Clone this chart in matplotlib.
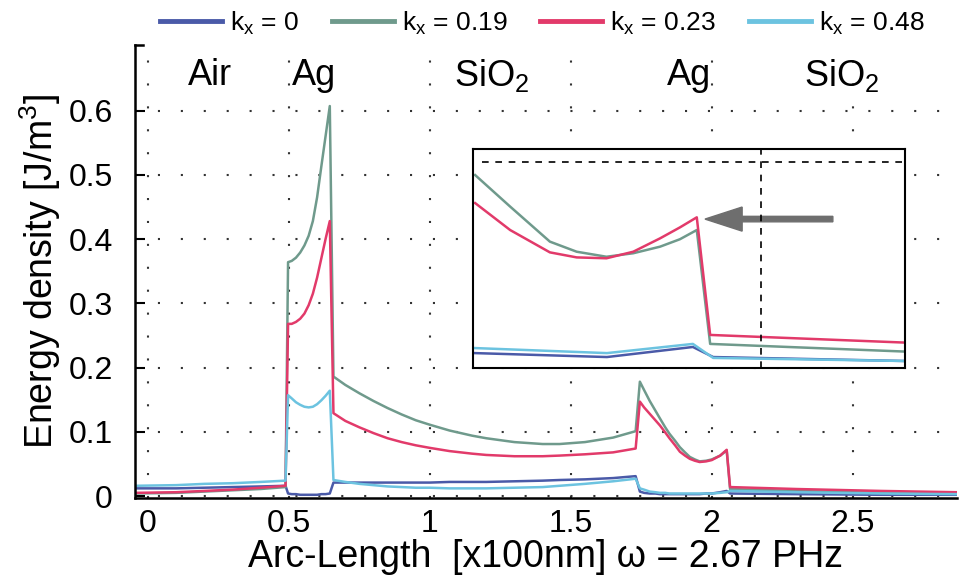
import numpy as np
import matplotlib.pyplot as plt

plt.rcParams['font.family'] = ['Liberation Sans', 'DejaVu Sans']
plt.rcParams['mathtext.fontset'] = 'custom'
plt.rcParams['mathtext.rm'] = 'Liberation Sans'
plt.rcParams['mathtext.it'] = 'Liberation Sans:italic'

# arc length [x100nm], shared by all four k_x curves
arc = [-0.046, 0.1, 0.2, 0.3, 0.4, 0.488,
       0.497, 0.51, 0.525, 0.54, 0.555, 0.57, 0.585, 0.60, 0.615, 0.63, 0.645,
       0.658, 0.7, 0.75, 0.8, 0.85, 0.9, 0.95, 1.0, 1.07, 1.15, 1.2, 1.3, 1.4, 1.46,
       1.55, 1.65, 1.73,
       1.745, 1.76, 1.78, 1.8, 1.816, 1.835, 1.85, 1.87, 1.887, 1.905, 1.922, 1.94,
       1.957, 1.98, 2.0, 2.03, 2.053,
       2.065, 2.3, 2.6, 2.87]

# energy density [J/m^3]
u_k000 = [0.012, 0.012, 0.013, 0.014, 0.015, 0.016,
          0.004, 0.003, 0.003, 0.002, 0.002, 0.002, 0.002, 0.002, 0.003, 0.003, 0.004,
          0.021, 0.021, 0.021, 0.021, 0.021, 0.021, 0.021, 0.021, 0.022, 0.022, 0.022,
          0.023, 0.024, 0.025, 0.026, 0.028, 0.031,
          0.007, 0.005, 0.004, 0.004, 0.003, 0.003, 0.003, 0.003, 0.003, 0.003, 0.003,
          0.003, 0.003, 0.004, 0.004, 0.006, 0.008,
          0.004, 0.003, 0.002, 0.002]
u_k019 = [0.004, 0.005, 0.007, 0.009, 0.011, 0.014,
          0.364, 0.366, 0.371, 0.379, 0.390, 0.405, 0.428, 0.465, 0.513, 0.560, 0.607,
          0.186, 0.173, 0.160, 0.148, 0.137, 0.127, 0.118, 0.111, 0.102, 0.094, 0.090,
          0.084, 0.081, 0.081, 0.084, 0.091, 0.101,
          0.178, 0.165, 0.148, 0.133, 0.121, 0.107, 0.097, 0.086, 0.076, 0.068, 0.061,
          0.057, 0.054, 0.055, 0.057, 0.063, 0.071,
          0.011, 0.008, 0.005, 0.004]
u_k023 = [0.005, 0.006, 0.008, 0.010, 0.013, 0.016,
          0.268, 0.268, 0.271, 0.276, 0.284, 0.297, 0.315, 0.340, 0.370, 0.400, 0.428,
          0.129, 0.117, 0.107, 0.098, 0.090, 0.084, 0.079, 0.075, 0.070, 0.066, 0.064,
          0.062, 0.062, 0.063, 0.065, 0.068, 0.074,
          0.147, 0.138, 0.128, 0.118, 0.110, 0.099, 0.090, 0.079, 0.069, 0.063, 0.058,
          0.055, 0.053, 0.054, 0.056, 0.063, 0.072,
          0.014, 0.011, 0.008, 0.006]
u_k048 = [0.016, 0.017, 0.019, 0.020, 0.022, 0.024,
          0.157, 0.152, 0.146, 0.142, 0.139, 0.138, 0.139, 0.143, 0.149, 0.156, 0.164,
          0.025, 0.022, 0.019, 0.017, 0.015, 0.014, 0.013, 0.013, 0.012, 0.012, 0.012,
          0.013, 0.014, 0.016, 0.019, 0.023, 0.027,
          0.012, 0.010, 0.007, 0.006, 0.005, 0.005, 0.004, 0.004, 0.004, 0.004, 0.004,
          0.004, 0.004, 0.004, 0.004, 0.005, 0.006,
          0.008, 0.006, 0.004, 0.003]

# close-up (normalised units)
zx_a = [0.005, 0.086, 0.178, 0.240, 0.309, 0.371, 0.433, 0.479, 0.518, 0.549, 1.0]
zy_k019 = [0.881, 0.737, 0.577, 0.531, 0.508, 0.524, 0.554, 0.588, 0.630, 0.110, 0.075]
zy_k023 = [0.753, 0.630, 0.528, 0.505, 0.501, 0.531, 0.592, 0.642, 0.688, 0.151, 0.116]
zx_b = [0.005, 0.310, 0.509, 0.556, 1.0]
zy_k000 = [0.068, 0.050, 0.096, 0.050, 0.032]
zy_k048 = [0.091, 0.068, 0.110, 0.046, 0.032]

labels = [r'k$_{\mathrm{x}}$ = 0', r'k$_{\mathrm{x}}$ = 0.19',
          r'k$_{\mathrm{x}}$ = 0.23', r'k$_{\mathrm{x}}$ = 0.48']
colors = ['#4a5aa8', '#6f9a8c', '#e23a6a', '#6cc3e0']
materials = ['Air', 'Ag', 'SiO$_2$', 'Ag', 'SiO$_2$']
mat_x = [0.22, 0.59, 1.22, 1.92, 2.46]

fig = plt.figure(figsize=(9.59, 5.76), dpi=100)
ax = fig.add_axes([135 / 959, 78 / 576, 822 / 959, 453 / 576])

series = [u_k000, u_k019, u_k023, u_k048]
for u, c, lab in zip(series, colors, labels):
    ax.plot(arc, u, color=c, lw=1.8, label=lab)

ax.set_xlim(-0.046, 2.87)
ax.set_ylim(-0.003, 0.702)
ax.set_xticks([0, 0.5, 1, 1.5, 2, 2.5])
ax.set_xticklabels(['0', '0.5', '1', '1.5', '2', '2.5'])
ax.set_yticks([0, 0.1, 0.2, 0.3, 0.4, 0.5, 0.6])
ax.set_yticklabels(['0', '0.1', '0.2', '0.3', '0.4', '0.5', '0.6'])
ax.tick_params(axis='y', direction='in', length=7, width=1.5, labelsize=23, pad=16)
ax.tick_params(axis='x', length=0, labelsize=23, pad=8)
ax.grid(True, color='#333333', linestyle=(0, (1, 10)), linewidth=1.5)
for s in ['top', 'right']:
    ax.spines[s].set_visible(False)
ax.spines['left'].set_linewidth(1.8)
ax.spines['bottom'].set_linewidth(1.8)
ax.plot([0, 0.01], [1, 1], transform=ax.transAxes, color='k', lw=1.8, clip_on=False)

ax.set_xlabel(r'Arc-Length  [x100nm] ω = 2.67 PHz', fontsize=27, labelpad=0)
ax.set_ylabel(r'Energy density [J/m$^3$]', fontsize=27, labelpad=4)

for name, mx in zip(materials, mat_x):
    ax.text(mx, 0.655, name, fontsize=26, ha='center', va='center')

fig.legend(loc='center left', bbox_to_anchor=(160 / 959, 1 - 23 / 576), ncol=4,
           frameon=False, fontsize=19, handlelength=2.35, handletextpad=0.3,
           columnspacing=1.25, borderpad=0, borderaxespad=0)
for h in fig.legends[0].get_lines():
    h.set_linewidth(3.5)

# close-up panel
axi = fig.add_axes([473 / 959, 1 - 368 / 576, 432 / 959, 219 / 576])
axi.plot(zx_b, zy_k000, color=colors[0], lw=1.8)
axi.plot(zx_b, zy_k048, color=colors[3], lw=1.8)
axi.plot(zx_a, zy_k019, color=colors[1], lw=1.8)
axi.plot(zx_a, zy_k023, color=colors[2], lw=1.8)
axi.plot([0.02, 1.0], [0.941, 0.941], color='k', lw=1.2, ls=(0, (4, 4)))
axi.plot([0.667, 0.667], [0, 1], color='k', lw=1.2, ls=(0, (4, 4)))
axi.arrow(0.833, 0.68, -0.296, 0, width=0.025, head_width=0.11, head_length=0.086,
          length_includes_head=True, color='#6e6e6e')
axi.set_xlim(0, 1)
axi.set_ylim(0, 1)
axi.set_xticks([])
axi.set_yticks([])
for s in axi.spines.values():
    s.set_linewidth(1.5)

fig.savefig('out.png', dpi=100)
